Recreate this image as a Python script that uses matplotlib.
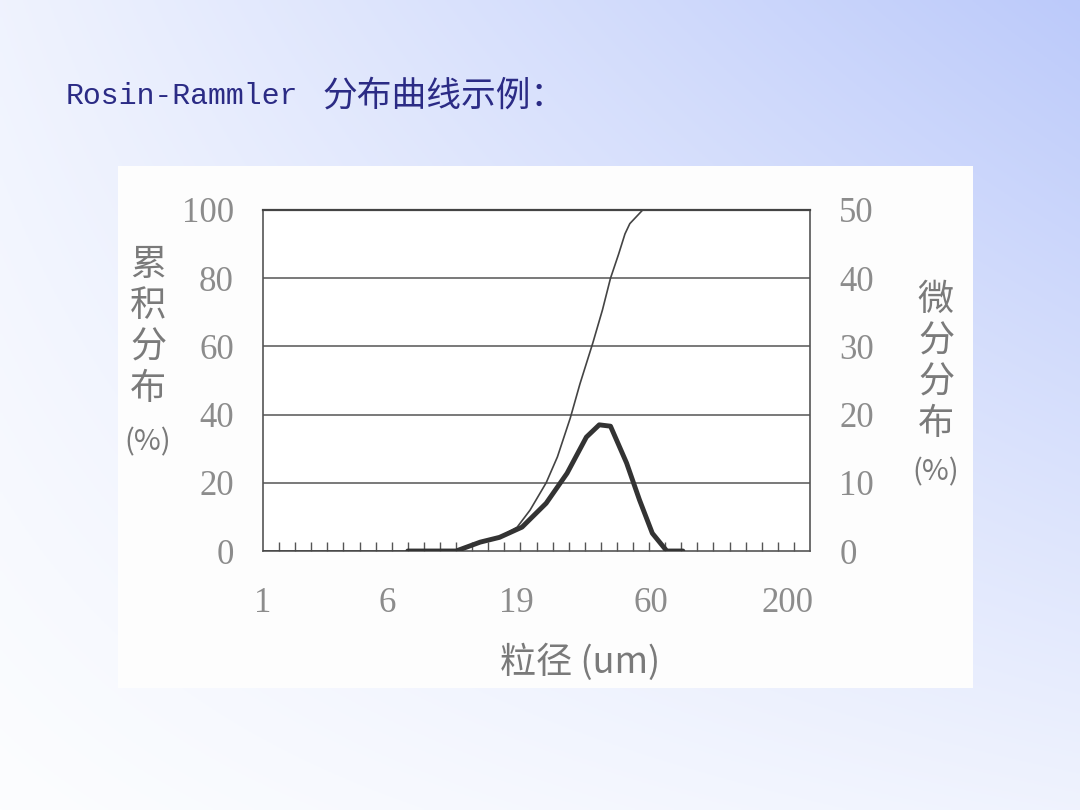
import matplotlib.pyplot as plt
import numpy as np
from matplotlib.patches import Rectangle

# x is the category position along the size axis (0 = 1 um, 34 = right edge)
cum_x = [0, 12.0, 13.5, 14.7, 15.8, 16.6, 17.6, 18.3, 19.1, 19.7, 20.5, 21.1, 21.6, 22.1, 22.5, 22.8, 23.6, 34]
cum_y = [0, 0, 2.6, 4.1, 7, 12, 20, 27.6, 39, 49, 61, 70.7, 80, 87, 93, 96, 100, 100]

diff_x = [9.0, 12.0, 13.5, 14.7, 16.1, 17.6, 18.9, 20.1, 20.9, 21.6, 22.6, 23.4, 24.2, 25.1, 26.1]
diff_y = [0, 0, 1.3, 2.0, 3.5, 7.0, 11.4, 16.7, 18.5, 18.3, 12.9, 7.5, 2.6, 0, 0]

size_pos = [0, 7.75, 15.75, 24.1, 32.6]
size_labels = ['1', '6', '19', '60', '200']
left_ticks = [0, 20, 40, 60, 80, 100]
right_ticks = [0, 10, 20, 30, 40, 50]

gray = '#8c8c8c'
cjk = ['Noto Sans CJK SC', 'DejaVu Sans']
num_font = 'Liberation Serif'

fig = plt.figure(figsize=(10.8, 8.1), dpi=100)

# slide background gradient (light at bottom-left, blue at top-right)
bg = fig.add_axes([0, 0, 1, 1])
xx, yy = np.meshgrid(np.linspace(0, 1, 300), np.linspace(0, 1, 300))
top = 1 - yy
t = 0.6 * xx * top + 0.4 * (xx + top) / 2
c0 = np.array([252, 253, 255]) / 255
c1 = np.array([188, 202, 250]) / 255
img = c0[None, None, :] * (1 - t[..., None]) + c1[None, None, :] * t[..., None]
bg.imshow(img, extent=[0, 1, 0, 1], aspect='auto', origin='upper')
bg.axis('off')

# white chart box
fig.patches.append(Rectangle((118 / 1080, 1 - 688 / 810), (973 - 118) / 1080, (688 - 166) / 810,
                             transform=fig.transFigure, facecolor='#fdfdfd', edgecolor='none', zorder=1))

ax = fig.add_axes([263 / 1080, 1 - 551 / 810, 547 / 1080, 341 / 810])
ax.set_facecolor('white')
ax.set_zorder(2)
ax.set_xlim(0, 34)
ax.set_ylim(0, 100)

for v in [20, 40, 60, 80]:
    ax.axhline(v, color='#555555', lw=1.1, zorder=1)

ax.plot(cum_x, cum_y, color='#444444', lw=1.2, zorder=3)

ax.set_yticks(left_ticks)
ax.set_yticklabels([str(v) for v in left_ticks], fontsize=25, color=gray, family=num_font)
ax.tick_params(axis='y', length=0, pad=21)

ax.set_xticks(size_pos)
ax.set_xticklabels(size_labels, fontsize=25, color=gray, family=num_font)
ax.set_xticks(np.arange(1, 34), minor=True)
ax.tick_params(axis='x', which='major', length=0, pad=26)
ax.tick_params(axis='x', which='minor', direction='in', length=6.5, width=1, color='#555555')

for s in ax.spines.values():
    s.set_color('#555555')
    s.set_linewidth(1.2)
ax.spines['top'].set_linewidth(1.6)
ax.spines['top'].set_color('#444444')

ax2 = ax.twinx()
ax2.set_ylim(0, 50)
ax2.plot(diff_x, diff_y, color='#333333', lw=3.5, solid_capstyle='round', zorder=4)
ax2.set_yticks(right_ticks)
ax2.set_yticklabels([str(v) for v in right_ticks], fontsize=25, color=gray, family=num_font)
ax2.tick_params(axis='y', length=0, pad=21)
for s in ax2.spines.values():
    s.set_visible(False)

# axis titles
fig.text(148 / 1080, 1 - 327 / 810, '累\n积\n分\n布', ha='center', va='center', fontsize=26,
         color='#7a7a7a', family=cjk, linespacing=1.2)
fig.text(148 / 1080, 1 - 442 / 810, '(%)', ha='center', va='center', fontsize=21,
         color='#7a7a7a', family=cjk)
fig.text(936 / 1080, 1 - 362 / 810, '微\n分\n分\n布', ha='center', va='center', fontsize=26,
         color='#7a7a7a', family=cjk, linespacing=1.2)
fig.text(936 / 1080, 1 - 472 / 810, '(%)', ha='center', va='center', fontsize=21,
         color='#7a7a7a', family=cjk)
fig.text(580 / 1080, 1 - 662 / 810, '粒径 (um)', ha='center', va='center', fontsize=26,
         color='#7a7a7a', family=cjk)

# slide title
fig.text(66 / 1080, 1 - 96 / 810, 'Rosin-Rammler', ha='left', va='center', fontsize=21.5,
         color='#2b2b85', family='Liberation Mono')
fig.text(322 / 1080, 1 - 96 / 810, '分布曲线示例：', ha='left', va='center', fontsize=25,
         color='#2b2b85', family=cjk)

fig.savefig('out.png', dpi=100)
